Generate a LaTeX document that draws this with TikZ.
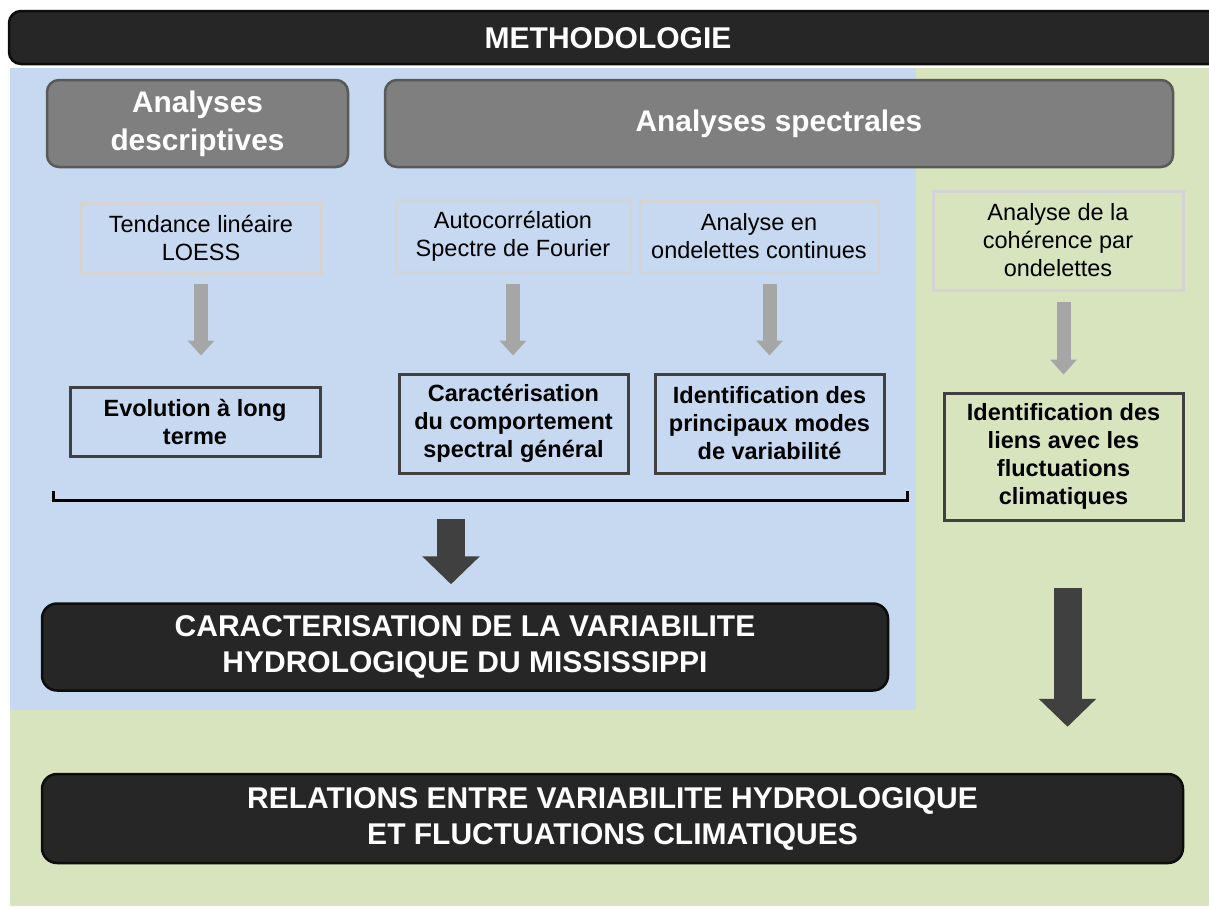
\documentclass[tikz,border=0pt]{standalone}
\usepackage{fontspec}
\setmainfont{Liberation Sans}
\usetikzlibrary{arrows.meta}
\definecolor{bgblue}{HTML}{C6D9F1}
\definecolor{bggreen}{HTML}{D7E4BD}
\definecolor{blackbox}{HTML}{262626}
\definecolor{blackline}{HTML}{0D0D0D}
\definecolor{greybox}{HTML}{7F7F7F}
\definecolor{greyline}{HTML}{595959}
\definecolor{lightline}{HTML}{D4D4D4}
\definecolor{darkline}{HTML}{404040}
\definecolor{greyarrow}{HTML}{A6A6A6}
\tikzset{
  headbox/.style={draw=greyline, line width=2.5pt, fill=greybox, rounded corners=12pt,
    inner sep=0pt, align=center, text=white,
    font=\bfseries\fontsize{29.8}{38}\selectfont},
  inbox/.style={draw=lightline, line width=3pt, inner sep=0pt, align=center,
    font=\fontsize{23.5}{28}\selectfont},
  outbox/.style={draw=darkline, line width=3pt, inner sep=0pt, align=center,
    font=\bfseries\fontsize{23.5}{28}\selectfont},
  resbox/.style={draw=blackline, line width=2.5pt, fill=blackbox, rounded corners=15pt,
    inner sep=0pt, align=center, text=white,
    font=\bfseries\fontsize{30}{36}\selectfont},
  greyarr/.style={draw=greyarrow, line width=14pt,
    -{Triangle[width=26pt,length=15pt]}},
  darkarr/.style={draw=darkline, line width=28pt,
    -{Triangle[width=56pt,length=28pt]}},
}
\begin{document}
\begin{tikzpicture}[x=1pt,y=-1pt]
\useasboundingbox (0,0) rectangle (1209,906);
% backgrounds
\fill[bggreen] (10,68) rectangle (1209,906);
\fill[bgblue] (10,68) rectangle (916,710);
% header bar
\draw[draw=blackline, line width=2.5pt, fill=blackbox, rounded corners=12pt] (9,11) rectangle (1240,64);
\node[text=white, font=\bfseries\fontsize{30}{34}\selectfont] (title) at (608,38) {METHODOLOGIE};
% heads
\node[headbox, minimum width=301pt, minimum height=87pt] (desc) at (197.5,123.5) {Analyses\\descriptives};
\node[headbox, minimum width=788pt, minimum height=87pt] (spec) at (779,123.5) {Analyses spectrales};
% inputs
\node[inbox, minimum width=240pt, minimum height=70pt] (in1) at (201,238) {Tendance linéaire\\LOESS};
\node[inbox, minimum width=234pt, minimum height=72pt] (in2) at (513,236) {Autocorrélation\\Spectre de Fourier};
\node[inbox, minimum width=238pt, minimum height=71pt] (in3) at (759,236.5) {Analyse en\\ondelettes continues};
\node[inbox, minimum width=250pt, minimum height=99pt] (in4) at (1058,240.5) {Analyse de la\\cohérence par\\ondelettes};
% outputs
\node[outbox, minimum width=250pt, minimum height=69pt] (out1) at (195,421.5) {Evolution à long\\terme};
\node[outbox, minimum width=229pt, minimum height=99pt] (out2) at (513.5,423.5) {Caractérisation\\du comportement\\spectral général};
\node[outbox, minimum width=229pt, minimum height=99pt] (out3) at (769.5,423.5) {Identification des\\principaux modes\\de variabilité};
\node[outbox, minimum width=239pt, minimum height=127pt] (out4) at (1063.5,456.5) {Identification des\\liens avec les\\fluctuations\\climatiques};
% results
\node[resbox, minimum width=846pt, minimum height=87pt] (car) at (465,647) {CARACTERISATION DE LA VARIABILITE\\HYDROLOGIQUE DU MISSISSIPPI};
\node[resbox, minimum width=1141pt, minimum height=89pt] (rel) at (612.5,818.5) {RELATIONS ENTRE VARIABILITE HYDROLOGIQUE\\ET FLUCTUATIONS CLIMATIQUES};
% grey arrows
\draw[greyarr, shorten <=9pt, shorten >=30pt] (in1.south) -- (in1.south |- out1.north);
\draw[greyarr, shorten <=10pt, shorten >=17pt] (in2.south) -- (in2.south |- out2.north);
\draw[greyarr, shorten <=10pt, shorten >=17pt] (in3.south -| out3.north) -- (out3.north);
\draw[greyarr, shorten <=10pt, shorten >=17pt] (in4.south -| out4.north) -- (out4.north);
% bracket
\coordinate (bl) at (53,491);
\coordinate (br) at (907,491);
\coordinate (bm) at (451,500);
\draw[black, line width=3pt] (bl) -- (bl |- bm) -- (br |- bm) -- (br);
% dark arrows
\draw[darkarr, shorten <=19pt, shorten >=18pt] (bm) -- (bm |- car.north);
\draw[darkarr, shorten <=66pt, shorten >=46pt] ([xshift=4pt]out4.south) -- ([xshift=4pt]out4.south |- rel.north);
\end{tikzpicture}
\end{document}
